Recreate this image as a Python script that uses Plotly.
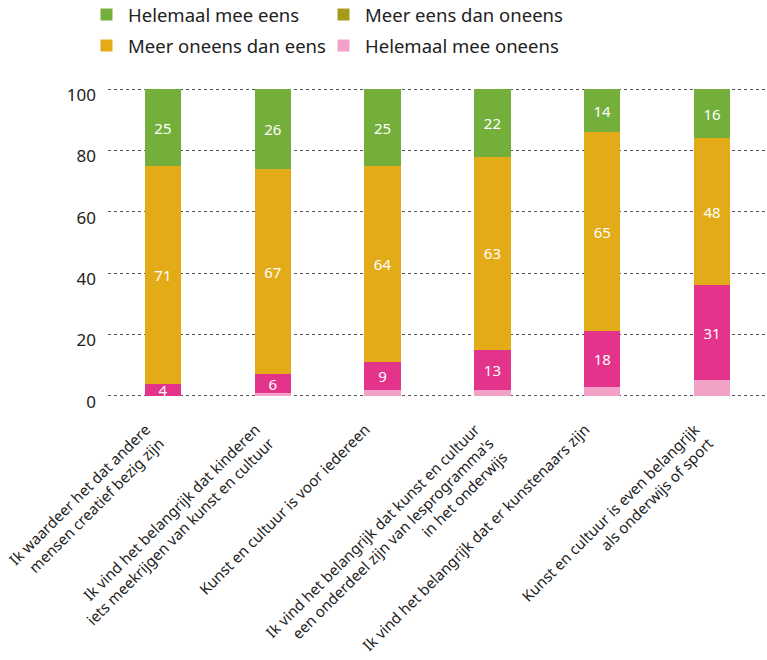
import plotly.graph_objects as go

categories = [
    "Ik waardeer het dat andere<br>mensen creatief bezig zijn",
    "Ik vind het belangrijk dat kinderen<br>iets meekrijgen van kunst en cultuur",
    "Kunst en cultuur is voor iedereen",
    "Ik vind het belangrijk dat kunst en cultuur<br>een onderdeel zijn van lesprogramma's<br>in het onderwijs",
    "Ik vind het belangrijk dat er kunstenaars zijn",
    "Kunst en cultuur is even belangrijk<br>als onderwijs of sport",
]
helemaal_mee_oneens = [0, 1, 2, 2, 3, 5]
meer_oneens_magenta = [4, 6, 9, 13, 18, 31]
meer_oneens_dan_eens = [71, 67, 64, 63, 65, 48]
helemaal_mee_eens = [25, 26, 25, 22, 14, 16]
meer_eens_dan_oneens = [0, 0, 0, 0, 0, 0]

FONT = "Noto Sans"
fig = go.Figure()

def add(name, vals, color, text, show=True, legend="legend"):
    fig.add_trace(go.Bar(
        x=categories, y=vals, name=name, marker=dict(color=color, line=dict(width=0)),
        text=[str(v) for v in vals] if text else None,
        textposition="inside" if text else "none",
        insidetextanchor="middle", textangle=0,
        textfont=dict(color="white", size=15, family=FONT),
        showlegend=show, legend=legend, hoverinfo="skip",
    ))

add("Helemaal mee oneens", helemaal_mee_oneens, "#F2A2C6", False, True, "legend4")
add("Meer oneens (roze)", meer_oneens_magenta, "#E3338A", True, False)
add("Meer oneens dan eens", meer_oneens_dan_eens, "#E3AB17", True, True, "legend3")
add("Helemaal mee eens", helemaal_mee_eens, "#75AF3B", True, True, "legend")
add("Meer eens dan oneens", meer_eens_dan_oneens, "#A69A1A", False, True, "legend2")

ML, MT, MB = 108, 88, 263
PH = 660 - MT - MB
PW = 767 - ML

def ly(py):
    return 1 + (MT - py) / PH

def lx(px):
    return (px - ML) / PW

leg_common = dict(
    orientation="h", xanchor="left", yanchor="middle",
    font=dict(size=18.5, family=FONT, color="#222222"),
    itemwidth=33, bgcolor="rgba(0,0,0,0)",
)

fig.update_layout(
    width=767, height=660,
    barmode="stack", bargap=0.67,
    plot_bgcolor="white", paper_bgcolor="white",
    margin=dict(l=ML, r=0, t=MT, b=MB, autoexpand=False),
    font=dict(family=FONT, size=16, color="#222222"),
    uniformtext=dict(minsize=15, mode="show"),
    legend=dict(x=lx(85), y=ly(15), **leg_common),
    legend2=dict(x=lx(322), y=ly(15), **leg_common),
    legend3=dict(x=lx(85), y=ly(46), **leg_common),
    legend4=dict(x=lx(322), y=ly(46), **leg_common),
    xaxis=dict(tickangle=-45, showgrid=False, showline=False, ticks="",
               automargin=False, ticklabelshift=-17, ticklabelstandoff=20,
               tickfont=dict(size=15, family=FONT, color="#222222")),
    yaxis=dict(range=[-0.4, 100.4], tickvals=[0, 20, 40, 60, 80, 100],
               showgrid=True, gridcolor="#555555", griddash="dot", gridwidth=1.4,
               zeroline=False, showline=False, ticks="", automargin=False,
               ticklabelstandoff=11, ticklabelshift=6,
               tickfont=dict(size=17, family=FONT, color="#222222")),
)

fig.write_html("out.html", config={"displayModeBar": False},
               post_script="document.body.style.margin='0';")
